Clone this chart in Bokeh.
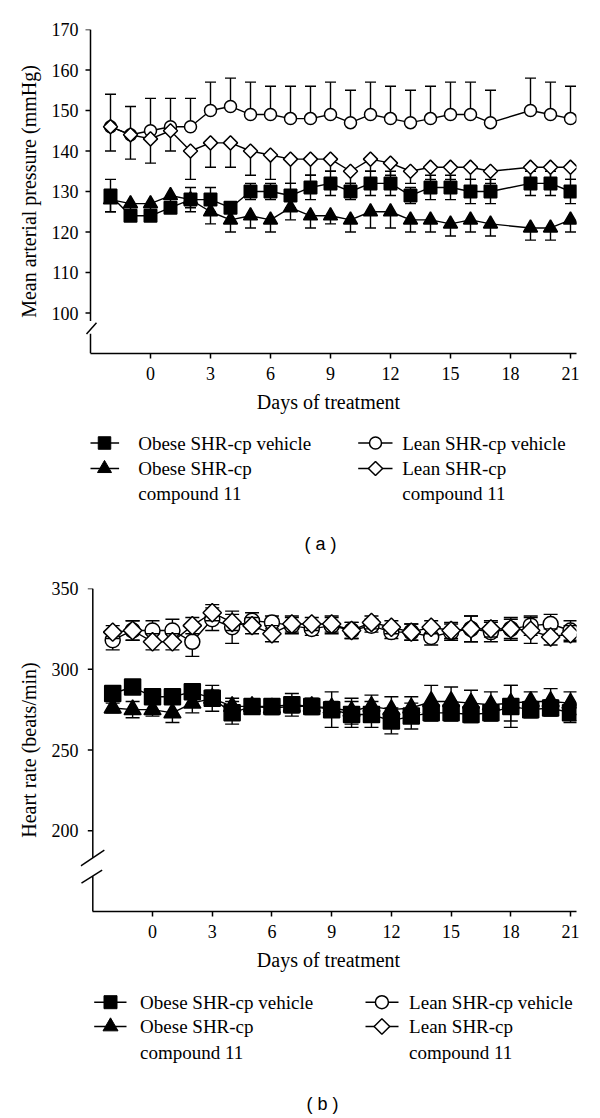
import numpy as np
from bokeh.plotting import figure
from bokeh.models import Range1d, FixedTicker
from bokeh.layouts import column
from bokeh.core.properties import value
from bokeh.embed import file_html
from bokeh.resources import INLINE

# ---------------- data ----------------
# Panel (a): mean arterial pressure (mmHg)
days_a = [-2, -1, 0, 1, 2, 3, 4, 5, 6, 7, 8, 9, 10, 11, 12, 13, 14, 15, 16, 17, 19, 20, 21]
obese_veh_a = [129, 124, 124, 126, 128, 128, 126, 130, 130, 129, 131, 132, 130, 132, 132, 129, 131, 131, 130, 130, 132, 132, 130]
obese_veh_a_err = [4, 1, 1, 1, 3, 3, 1, 2, 2, 3, 3, 3, 2, 3, 3, 2, 3, 3, 3, 3, 3, 3, 3]
obese_c11_a = [128, 127, 127, 129, 128, 125, 123, 124, 123, 126, 124, 124, 123, 125, 125, 123, 123, 122, 123, 122, 121, 121, 123]
obese_c11_a_err = [3, 2, 2, 2, 2, 3, 3, 3, 3, 3, 3, 2, 3, 4, 4, 3, 3, 3, 3, 3, 3, 3, 3]
lean_veh_a = [146, 144, 145, 146, 146, 150, 151, 149, 149, 148, 148, 149, 147, 149, 148, 147, 148, 149, 149, 147, 150, 149, 148]
lean_veh_a_err = [8, 7, 8, 7, 7, 7, 7, 8, 7, 8, 8, 8, 8, 8, 8, 8, 8, 8, 8, 8, 8, 8, 8]
lean_c11_a = [146, 144, 143, 145, 140, 142, 142, 140, 139, 138, 138, 138, 135, 138, 137, 135, 136, 136, 136, 135, 136, 136, 136]
lean_c11_a_err = [6, 6, 6, 5, 7, 6, 6, 6, 6, 6, 4, 3, 3, 3, 3, 3, 3, 3, 3, 3, 3, 3, 3]

# Panel (b): heart rate (beats/min)
days_b = [-2, -1, 0, 1, 2, 3, 4, 5, 6, 7, 8, 9, 10, 11, 12, 13, 14, 15, 16, 17, 18, 19, 20, 21]
obese_veh_b = [285, 289, 283, 283, 286, 282, 273, 277, 277, 278, 277, 275, 272, 272, 268, 271, 273, 273, 272, 273, 277, 275, 276, 273]
obese_veh_b_err = [4, 4, 4, 4, 4, 8, 7, 4, 4, 7, 5, 11, 8, 8, 8, 8, 5, 5, 5, 5, 13, 5, 5, 6]
obese_c11_b = [276, 275, 275, 273, 279, 282, 277, 277, 276, 277, 277, 276, 274, 277, 275, 276, 280, 280, 279, 278, 279, 280, 280, 279]
obese_c11_b_err = [3, 5, 4, 6, 6, 5, 5, 4, 4, 4, 4, 4, 8, 7, 8, 7, 10, 9, 8, 8, 11, 6, 8, 7]
lean_veh_b = [318, 324, 324, 324, 317, 331, 326, 330, 329, 327, 325, 327, 324, 327, 323, 323, 320, 323, 325, 323, 325, 327, 328, 324]
lean_veh_b_err = [6, 6, 6, 7, 9, 7, 10, 5, 4, 5, 4, 5, 5, 4, 4, 5, 5, 5, 8, 6, 7, 6, 6, 6]
lean_c11_b = [323, 324, 317, 317, 327, 335, 329, 327, 322, 328, 328, 328, 324, 329, 326, 323, 326, 324, 325, 325, 325, 324, 320, 322]
lean_c11_b_err = [4, 6, 5, 5, 5, 5, 5, 5, 5, 5, 4, 5, 5, 4, 4, 5, 4, 5, 8, 5, 6, 8, 5, 5]

x_ticks = [0, 3, 6, 9, 12, 15, 18, 21]
y_ticks_a = [100, 110, 120, 130, 140, 150, 160, 170]
y_ticks_b = [200, 250, 300, 350]

series_names = ["Obese SHR-cp vehicle", "Obese SHR-cp", "compound 11",
                "Lean SHR-cp vehicle", "Lean SHR-cp", "compound 11"]

SERIF = "Liberation Serif"
SANS = "Liberation Sans"
W = 600
BL, BR = 80, 24   # left/right borders shared by every figure (frames line up)


def make_plot(height, top, bottom, xr, yr, yticks, ylabel, upper_from, lower_to, slashes):
    p = figure(width=W, height=height, x_range=Range1d(*xr), y_range=Range1d(*yr),
               output_backend="svg", toolbar_location=None, title=None,
               min_border_left=BL, min_border_right=BR,
               min_border_top=top, min_border_bottom=bottom)
    p.outline_line_color = None
    p.grid.visible = False
    for ax in (p.xaxis[0], p.yaxis[0]):
        ax.axis_line_color = "black"
        ax.axis_line_width = 1.5
        ax.major_tick_line_color = "black"
        ax.major_tick_line_width = 1.5
        ax.major_tick_out = 5
        ax.major_tick_in = 0
        ax.minor_tick_line_color = None
        ax.major_label_text_font = SERIF
        ax.major_label_text_font_size = "18px"
        ax.major_label_text_color = "black"
        ax.axis_label_text_font = SERIF
        ax.axis_label_text_font_size = "20px"
        ax.axis_label_text_font_style = "normal"
        ax.axis_label_text_color = "black"
    xa = p.xaxis[0]
    xa.ticker = FixedTicker(ticks=x_ticks)
    xa.axis_label = "Days of treatment"
    xa.major_label_standoff = 8
    xa.axis_label_standoff = 8
    xa.bounds = (-3, xr[1])
    # y axis: labels from Bokeh, the (broken) axis line and its ticks drawn at day -3
    ya = p.yaxis[0]
    ya.ticker = FixedTicker(ticks=yticks)
    ya.axis_label = ylabel
    ya.axis_line_color = None
    ya.major_tick_line_color = None
    ya.major_tick_out = 0
    ya.major_label_standoff = 2
    ya.axis_label_standoff = 9
    px_per_day = W - BL - BR
    tick_len = 5.0 * (xr[1] - xr[0]) / px_per_day
    p.segment(x0=[-3] * len(yticks), y0=yticks, x1=[-3 - tick_len] * len(yticks), y1=yticks,
              line_color="black", line_width=1.5)
    p.segment(x0=[-3, -3], y0=[upper_from, yr[0]], x1=[-3, -3], y1=[yr[1], lower_to],
              line_color="black", line_width=1.5)
    for (x0, y0, x1, y1) in slashes:
        p.segment(x0=[x0], y0=[y0], x1=[x1], y1=[y1], line_color="black", line_width=1.5)
    return p


def draw_series(p, x, y, err, marker, size, fill, cap, up=True, down=True, angle=0.0):
    x = np.asarray(x, float)
    y = np.asarray(y, float)
    e = np.asarray(err, float)
    if up:
        p.segment(x, y, x, y + e, line_color="black", line_width=1.4)
        p.scatter(x, y + e, marker="dash", size=cap, line_color="black", line_width=1.4)
    if down:
        p.segment(x, y, x, y - e, line_color="black", line_width=1.4)
        p.scatter(x, y - e, marker="dash", size=cap, line_color="black", line_width=1.4)
    p.line(x, y, line_color="black", line_width=1.4)
    p.scatter(x, y, marker=marker, size=size, fill_color=fill, line_color="black",
              line_width=1.5, angle=angle)


def make_legend(height, rows, lx, ltext, rx, rtext, sizes, tag, tag_xy):
    p = figure(width=W, height=height, x_range=Range1d(BL, W - BR), y_range=Range1d(height, 0),
               output_backend="svg", toolbar_location=None, title=None,
               x_axis_type=None, y_axis_type=None,
               min_border_left=BL, min_border_right=BR, min_border_top=0, min_border_bottom=0)
    p.outline_line_color = None
    p.grid.visible = False
    r1, r2, r3 = rows
    sq, tr, ci, di = sizes
    p.segment(x0=[lx[0], lx[0], rx[0], rx[0]], y0=[r1, r2, r1, r2],
              x1=[lx[2], lx[2], rx[2], rx[2]], y1=[r1, r2, r1, r2],
              line_color="black", line_width=1.5)
    p.scatter([lx[1]], [r1], marker="square", size=sq, fill_color="black", line_color="black")
    p.scatter([lx[1]], [r2], marker="triangle", size=tr, fill_color="black", line_color="black")
    p.scatter([rx[1]], [r1], marker="circle", size=ci, fill_color="white", line_color="black", line_width=1.5)
    p.scatter([rx[1]], [r2], marker="square", size=di, angle=np.pi / 4, fill_color="white",
              line_color="black", line_width=1.5)
    p.text(x=[ltext, ltext, ltext, rtext, rtext, rtext], y=[r1, r2, r3, r1, r2, r3],
           text=series_names, text_font=value(SERIF), text_font_size="19px",
           text_baseline="middle", text_align="left", text_color="black")
    p.text(x=[tag_xy[0]], y=[tag_xy[1]], text=[tag], text_font=value(SANS), text_font_size="18px",
           text_baseline="middle", text_align="center", text_color="black")
    return p


# ---------------- panel (a) ----------------
pa = make_plot(420, 29, 67, (-3.5, 21.3), (90, 170), y_ticks_a,
               "Mean arterial pressure (mmHg)", 98.0, 94.9,
               [(-3.2, 94.8, -2.7, 97.6)])
draw_series(pa, days_a, obese_veh_a, obese_veh_a_err, "square", 12.5, "black", 11)
draw_series(pa, days_a, obese_c11_a, obese_c11_a_err, "triangle", 14, "black", 11, up=False)
draw_series(pa, days_a, lean_veh_a, lean_veh_a_err, "circle", 12, "white", 11, down=False)
draw_series(pa, days_a, lean_c11_a, lean_c11_a_err, "square", 10, "white", 11, up=False, angle=np.pi / 4)

la = make_legend(150, (22.5, 48, 73), (90, 104, 118.6), 137.7, (357.7, 375, 392), 401.7,
                 (12.5, 14, 12, 10), "( a )", (320, 123))

# ---------------- panel (b) ----------------
pb = make_plot(405, 18, 64, (-3.618, 21.3), (150, 350), y_ticks_b,
               "Heart rate (beats/min)", 183.3, 171.8,
               [(-3.6, 178.3, -2.42, 188.0), (-3.57, 167.6, -2.53, 175.6)])
draw_series(pb, days_b, obese_veh_b, obese_veh_b_err, "square", 16, "black", 14)
draw_series(pb, days_b, obese_c11_b, obese_c11_b_err, "triangle", 17, "black", 14)
draw_series(pb, days_b, lean_veh_b, lean_veh_b_err, "circle", 15, "white", 14)
draw_series(pb, days_b, lean_c11_b, lean_c11_b_err, "square", 13, "white", 14, angle=np.pi / 4)

lb = make_legend(141, (26.7, 51, 76.7), (93.7, 110, 126), 139.6, (365, 381.4, 398), 408.6,
                 (13, 15, 13, 11), "( b )", (322, 128))

layout = column(pa, la, pb, lb)
open("out.html", "w").write(file_html(layout, INLINE))
